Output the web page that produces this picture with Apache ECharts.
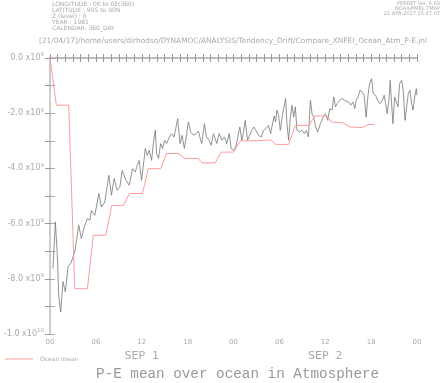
<!DOCTYPE html>
<html>
<head>
<meta charset="utf-8">
<script src="https://cdn.jsdelivr.net/npm/echarts@6/dist/echarts.min.js"></script>
<style>
  html, body { margin: 0; padding: 0; background: #fff; }
  #chart { width: 442px; height: 383px; }
</style>
</head>
<body>
<div id="chart"></div>
<script>
// time in hours since SEP 1 00:00, values in units of 1e9
const atmTimes = [0.39, 0.70, 0.96, 1.14, 1.40, 1.70, 2.01, 2.36, 2.71, 3.24, 3.76, 4.10, 4.55, 4.89, 5.21, 5.42, 5.86,
  6.39, 6.73, 7.17, 7.70, 8.04, 8.39, 8.79, 9.14, 9.44, 9.93, 10.36, 10.79, 11.15, 11.41, 11.67, 11.97,
  12.29, 12.46, 12.72, 12.98, 13.29, 13.51, 13.77, 13.94, 14.20, 14.47, 14.73, 14.99, 15.25, 15.61, 15.91,
  16.22, 16.49, 16.70, 17.01, 17.27, 17.57, 17.88, 18.10, 18.40, 18.75, 19.11, 19.41, 19.71, 19.84, 20.20,
  20.46, 20.81, 21.08, 21.38, 21.60, 21.81, 22.12, 22.47, 22.82, 23.12, 23.44, 23.70, 24.00, 24.30, 24.56,
  24.83, 25.09, 25.35, 25.53, 25.84, 26.06, 26.40, 26.66, 26.92, 27.28, 27.63, 27.93, 28.24, 28.59, 28.85,
  29.11, 29.32, 29.50, 29.68, 29.90, 30.12, 30.39, 30.65, 30.82, 30.99, 31.21, 31.44, 31.65, 31.87, 32.09,
  32.30, 32.66, 32.96, 33.27, 33.53, 33.80, 34.06, 34.27, 34.49, 34.75, 35.02, 35.37, 35.71, 36.03, 36.33,
  36.59, 36.89, 37.11, 37.34, 37.55, 37.90, 38.20, 38.52, 38.78, 39.08, 39.34, 39.61, 39.87, 40.04, 40.30,
  40.56, 40.83, 41.09, 41.35, 41.57, 41.80, 42.06, 42.27, 42.58, 42.85, 43.15, 43.45, 43.71, 43.90, 44.10,
  44.33, 44.50, 44.68, 44.85, 45.08, 45.29, 45.51, 45.73, 45.99, 46.20, 46.43, 46.65, 46.86, 47.08, 47.30,
  47.48, 47.70, 47.91, 48.00];
const atmValues = [-7.63, -5.94, -7.15, -8.60, -9.20, -8.10, -8.48, -7.57, -7.44, -7.03, -6.06, -6.54, -6.06, -5.82, -5.88, -5.52, -5.70,
  -4.91, -5.40, -5.22, -4.25, -4.97, -4.37, -4.79, -4.67, -4.07, -4.43, -4.61, -4.01, -4.13, -3.89, -3.71, -4.43,
  -3.71, -3.28, -3.53, -3.34, -3.71, -3.10, -2.62, -3.46, -3.64, -3.10, -3.28, -2.98, -3.10, -2.86, -2.74,
  -2.86, -2.50, -2.20, -3.10, -2.80, -3.28, -2.74, -2.32, -2.68, -2.80, -2.74, -2.65, -2.98, -3.10, -2.38,
  -2.86, -2.98, -3.16, -2.74, -2.80, -3.10, -2.74, -2.98, -2.86, -3.10, -2.74, -3.28, -3.34, -3.22, -2.86,
  -2.50, -2.98, -2.62, -2.26, -2.98, -3.04, -2.62, -2.50, -2.44, -2.80, -2.86, -2.62, -2.56, -2.44, -2.74,
  -2.38, -2.10, -2.32, -1.89, -2.08, -2.62, -2.08, -2.02, -1.47, -2.38, -2.98, -2.14, -1.71, -2.14, -1.77,
  -2.62, -2.68, -2.62, -2.74, -2.62, -2.86, -1.53, -2.02, -2.14, -2.50, -2.68, -2.38, -2.14, -2.02, -2.26,
  -1.83, -1.89, -1.41, -1.77, -1.65, -1.53, -1.47, -1.53, -1.47, -1.60, -1.71, -1.59, -1.83, -1.53, -1.41,
  -1.17, -1.23, -1.35, -2.14, -1.41, -0.93, -0.75, -1.29, -1.35, -1.53, -1.65, -1.53, -1.35, -1.65, -2.02,
  -1.53, -0.81, -1.65, -2.38, -1.41, -1.35, -1.77, -0.93, -0.81, -1.17, -2.26, -1.77, -1.29, -1.17, -1.65,
  -1.89, -1.41, -1.11, -1.35];

const oceanTimes = [0, 0.83, 2.45, 3.24, 4.90, 5.67, 7.30, 8.07, 9.60, 10.40, 12.10, 12.85, 14.47, 15.25, 16.80,
  17.67, 19.40, 19.85, 21.60, 22.40, 24.00, 24.90, 26.60, 28.85, 29.50, 31.20, 32.10, 33.90, 34.60, 36.20,
  36.80, 38.30, 39.25, 40.90, 41.60, 42.45];
const oceanValues = [0, -1.71, -1.71, -8.36, -8.36, -6.42, -6.42, -5.34, -5.34, -4.91, -4.91, -4.01, -4.01, -3.46, -3.46,
  -3.64, -3.64, -3.80, -3.80, -3.41, -3.41, -3.00, -3.00, -2.97, -3.13, -3.13, -2.44, -2.44, -2.10, -2.10,
  -2.32, -2.35, -2.50, -2.52, -2.41, -2.41];

const hourLabels = ['00', '06', '12', '18', '00', '06', '12', '18', '00'];
const dayLabels = { 12: 'SEP  1', 36: 'SEP  2' };

const headerLeft = ['LONGITUDE : 0E to 0E(360)', 'LATITUDE : 90S to 90N', 'Z (level) : 0', 'YEAR : 1981', 'CALENDAR: 360_DAY'];
const headerRight = ['FERRET Ver. 6.83', 'NOAA/PMEL TMAP', '21-APR-2017 15:47:07'];
const pathText = '[21/04/17]/home/users/dirhodso/DYNAMOC/ANALYSIS/Tendency_Drift/Compare_XNFEI_Ocean_Atm_P-E.jnl';

const FONT = 'DejaVu Sans';
const GREY = '#999';

const chart = echarts.init(document.getElementById('chart'));

const graphics = [];
headerLeft.forEach((t, i) => {
  graphics.push({ type: 'text', left: 52, top: 1 + i * 6, style: { text: t, fontSize: 6, fontFamily: FONT, fill: '#aaa' } });
});
headerRight.forEach((t, i) => {
  graphics.push({ type: 'text', right: 2, top: 1 + i * 5, style: { text: t, fontSize: 5, fontFamily: FONT, fill: '#aaa' } });
});
graphics.push({ type: 'text', left: 39, top: 38, style: { text: pathText, fontSize: 7.4, fontFamily: FONT, fill: '#aaa' } });

const option = {
  animation: false,
  backgroundColor: '#fff',
  title: {
    text: 'P-E mean over ocean in Atmosphere',
    left: 91, top: 362,
    textStyle: { fontFamily: 'Liberation Mono', fontSize: 14.3, fontWeight: 'normal', color: '#999' }
  },
  legend: {
    data: [{ name: 'Ocean mean', icon: 'rect' }],
    left: 0, top: 351,
    itemWidth: 28, itemHeight: 1, itemGap: 4,
    textStyle: { fontSize: 6, fontFamily: FONT, color: '#aaa', padding: [0, 0, 0, 2] }
  },
  graphic: graphics,
  grid: { left: 50, right: 25, top: 58, bottom: 49 },
  xAxis: [
    {
      type: 'value', position: 'bottom', min: 0, max: 48, interval: 1,
      axisLine: { lineStyle: { color: GREY, width: 1 } },
      axisTick: { length: 4, lineStyle: { color: GREY } },
      splitLine: { show: false },
      axisLabel: {
        margin: 5, fontSize: 7, fontFamily: FONT, color: '#aaa', showMinLabel: true, showMaxLabel: true,
        formatter: v => (v % 6 === 0 ? hourLabels[v / 6] : '')
      }
    },
    {
      type: 'value', position: 'top', min: 0, max: 48, interval: 1,
      axisLine: { lineStyle: { color: '#bbb', width: 2 } },
      axisTick: { length: 4, lineStyle: { color: '#999' } },
      splitLine: { show: false },
      axisLabel: { show: false }
    },
    {
      type: 'value', position: 'bottom', offset: 9, min: 0, max: 48, interval: 12,
      axisLine: { show: false }, axisTick: { show: false }, splitLine: { show: false },
      axisLabel: {
        fontSize: 11, fontFamily: FONT, color: '#aaa', showMinLabel: true, showMaxLabel: true,
        formatter: v => dayLabels[v] || ''
      }
    }
  ],
  yAxis: [
    {
      type: 'value', position: 'left', min: -10, max: 0, interval: 1,
      axisLine: { show: true, lineStyle: { color: GREY, width: 1 } },
      axisTick: { show: true, length: 5, lineStyle: { color: GREY } },
      splitLine: { show: false },
      axisLabel: {
        margin: 6, color: '#aaa', showMinLabel: true, showMaxLabel: true,
        formatter: v => {
          if (v % 2 !== 0) return '';
          if (v === -10) return '{m|-1.0 x10}{s|10}';
          return '{m|' + v.toFixed(1) + ' x10}{s|9}';
        },
        rich: {
          m: { fontSize: 8, fontFamily: FONT, color: '#aaa' },
          s: { fontSize: 5.5, fontFamily: FONT, color: '#aaa', padding: [0, 0, 6, 0] }
        }
      }
    },
    {
      type: 'value', position: 'right', min: -10, max: 0, interval: 1,
      axisLine: { show: true, lineStyle: { color: '#ccc', width: 2 } },
      axisTick: { show: true, length: 5, lineStyle: { color: '#aaa' } },
      splitLine: { show: false },
      axisLabel: { show: false }
    }
  ],
  series: [
    {
      name: 'Atmosphere', type: 'line', xAxisIndex: 0, yAxisIndex: 0,
      data: atmTimes.map((t, i) => [t, atmValues[i]]),
      symbol: 'none', lineStyle: { color: '#777', width: 0.8 }, itemStyle: { color: '#777' }
    },
    {
      name: 'Ocean mean', type: 'line', xAxisIndex: 0, yAxisIndex: 0,
      data: oceanTimes.map((t, i) => [t, oceanValues[i]]),
      symbol: 'none', lineStyle: { color: '#ff9a9a', width: 1 }, itemStyle: { color: '#ff9a9a' }
    }
  ]
};

chart.setOption(option);
</script>
</body>
</html>
